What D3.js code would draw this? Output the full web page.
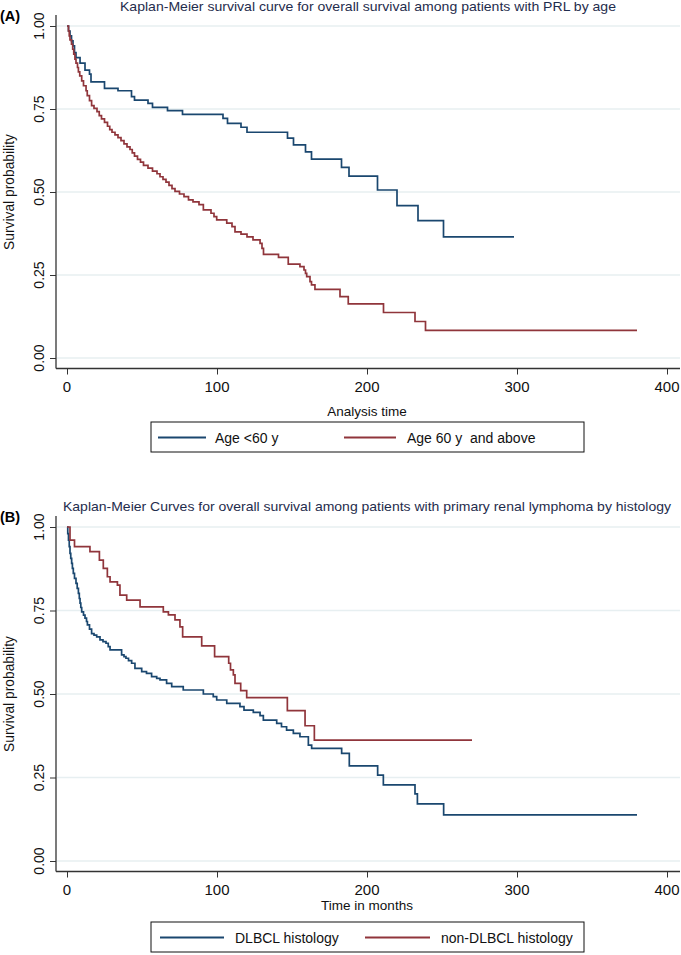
<!DOCTYPE html>
<html><head><meta charset="utf-8">
<script src="https://cdn.jsdelivr.net/npm/d3@7/dist/d3.min.js"></script>
<style>
body{margin:0;background:#fff}
svg{display:block}
text{font-family:"Liberation Sans",Arial,Helvetica,sans-serif;white-space:pre}
</style>
</head><body>
<svg id="chart" width="681" height="955"></svg>
<script>
// ---------- data ----------
const xTickValues = [0, 100, 200, 300, 400];
const yTickValues = [0, 0.25, 0.5, 0.75, 1];
const yTickLabels = ["0.00", "0.25", "0.50", "0.75", "1.00"];

// Panel A: by age
const youngTime = [0,1,2,3,4,5,6,8.7,12,15,16,25,34,43,45,54,57,67,77,104,107,116,120,147,151,159,163,183,188,207,220,234,251];
const youngSurv = [1,0.985,0.97,0.955,0.94,0.92,0.905,0.888,0.867,0.855,0.832,0.812,0.805,0.787,0.777,0.767,0.755,0.745,0.734,0.722,0.707,0.695,0.68,0.662,0.642,0.621,0.599,0.574,0.548,0.506,0.459,0.414,0.365];
const youngEnd = 298;

const oldTime = [0,1,1.5,2,3,3.8,4.5,5.3,6,7,7.6,8.5,9.8,11,12.7,13.5,15,16.4,18,20,21.5,23,25,27,28.5,30,32,34,36,38,40,42,43.5,45,47,49,51,54,57,60,62,64,66,68,70,72,75,78,81,84,88,90.9,96,98,99.8,106.5,110,112,116,120,124,128.7,130,131,141,147.5,155.3,158,159,159.8,162,163,165.3,182,187.5,211,232,239];
const oldSurv = [1,0.985,0.97,0.958,0.945,0.93,0.915,0.9,0.888,0.875,0.862,0.85,0.835,0.82,0.805,0.79,0.775,0.76,0.752,0.742,0.73,0.72,0.71,0.698,0.688,0.68,0.672,0.664,0.655,0.645,0.636,0.628,0.618,0.608,0.598,0.59,0.58,0.572,0.563,0.555,0.546,0.538,0.53,0.52,0.51,0.502,0.494,0.486,0.476,0.47,0.462,0.446,0.436,0.426,0.416,0.406,0.396,0.38,0.373,0.365,0.356,0.345,0.33,0.312,0.303,0.283,0.275,0.265,0.255,0.245,0.23,0.22,0.207,0.185,0.163,0.137,0.11,0.083];
const oldEnd = 380;

// Panel B: by histology
const dlbclTime = [0,0.5,1,1.5,2,2.5,3.1,3.6,4.2,5,6,6.8,7.6,8.2,8.7,9.2,9.8,11,12,13,13.6,15,16.4,18,19.8,22,24,26,27.5,28.7,36.4,38,39.3,41,43.1,45.3,49.8,53,56.4,59.8,62,66.4,69.8,77.5,90.9,97.5,99.8,106.5,115.3,118,124.2,128.7,130.9,139.8,143,146.4,150.9,155.3,160.9,163.1,183.1,188.2,207.1,210.9,232,233.6,251.1];
const dlbclSurv = [1,0.98,0.961,0.941,0.921,0.906,0.891,0.876,0.861,0.846,0.831,0.816,0.801,0.786,0.772,0.759,0.746,0.736,0.727,0.717,0.707,0.694,0.681,0.676,0.671,0.662,0.657,0.652,0.642,0.632,0.617,0.612,0.607,0.6,0.592,0.577,0.567,0.562,0.552,0.547,0.542,0.532,0.522,0.512,0.5,0.492,0.482,0.472,0.462,0.452,0.445,0.435,0.422,0.412,0.402,0.392,0.382,0.372,0.347,0.337,0.322,0.285,0.257,0.228,0.201,0.171,0.138];
const dlbclEnd = 380;

const nonDlbclTime = [0,2,5,15.3,21.6,24.2,26.9,28.7,33.6,35.3,39.8,48.7,64.2,67.6,72,75.3,77.1,89.8,98.4,107.8,109,110.9,112,115.8,119.8,146.9,158.7,164.9];
const nonDlbclSurv = [1,0.961,0.941,0.926,0.901,0.876,0.851,0.836,0.826,0.796,0.781,0.761,0.746,0.737,0.722,0.701,0.671,0.644,0.612,0.592,0.572,0.557,0.532,0.51,0.489,0.45,0.405,0.362];
const nonDlbclEnd = 270;

const titleA = "Kaplan-Meier survival curve for overall survival among patients with PRL by age";
const titleB = "Kaplan-Meier Curves for overall survival among patients with primary renal lymphoma by histology";
const legendA = ["Age <60 y", "Age 60 y  and above"];
const legendB = ["DLBCL histology", "non-DLBCL histology"];

// ---------- drawing ----------
const BLUE = "#1a476f", RED = "#90353b", GRID = "#e7eff1", TITLE = "#1f2d4d";
const svg = d3.select("#chart");
const x = d3.scaleLinear().domain([0, 400]).range([67, 667]);

function panel(cfg) {
  const y = d3.scaleLinear().domain([0, 1]).range([cfg.y0, cfg.y1]);
  const axisY = cfg.y0 + 10.5;
  const g = svg.append("g");

  // gridlines
  g.selectAll(".grid").data(yTickValues).enter().append("line")
    .attr("x1", 57).attr("x2", 680)
    .attr("y1", d => y(d)).attr("y2", d => y(d))
    .attr("stroke", GRID).attr("stroke-width", 1.3);

  // y axis
  const yAx = d3.axisLeft(y).tickValues(yTickValues).tickSize(6).tickFormat("");
  const ga = g.append("g").attr("transform", "translate(56,0)").call(yAx);
  ga.select(".domain").remove();
  ga.selectAll(".tick line").attr("stroke", "#333").attr("stroke-width", 1);
  g.append("line").attr("x1", 56).attr("x2", 56).attr("y1", cfg.y1 - 11).attr("y2", axisY)
    .attr("stroke", "#333").attr("stroke-width", 1.3);
  g.selectAll(".ylab").data(yTickValues).enter().append("text")
    .attr("transform", d => `translate(43.5,${y(d)}) rotate(-90)`)
    .attr("text-anchor", "middle").attr("font-size", 14).attr("fill", "#111")
    .text((d, i) => yTickLabels[i]);

  // x axis
  const xAx = d3.axisBottom(x).tickValues(xTickValues).tickSize(6).tickFormat("");
  const gx = g.append("g").attr("transform", `translate(0,${axisY})`).call(xAx);
  gx.select(".domain").remove();
  gx.selectAll(".tick line").attr("stroke", "#333").attr("stroke-width", 1);
  g.append("line").attr("x1", 56).attr("x2", 680).attr("y1", axisY).attr("y2", axisY)
    .attr("stroke", "#333").attr("stroke-width", 1.3);
  g.selectAll(".xlab").data(xTickValues).enter().append("text")
    .attr("x", d => x(d)).attr("y", axisY + 23.5)
    .attr("text-anchor", "middle").attr("font-size", 15).attr("fill", "#111")
    .text(d => d);

  // axis titles
  g.append("text").attr("transform", `translate(13.5,${y(0.5)}) rotate(-90)`)
    .attr("text-anchor", "middle").attr("font-size", 13.8).attr("fill", "#111")
    .text("Survival probability");
  g.append("text").attr("x", x(200)).attr("y", cfg.xTitleY)
    .attr("text-anchor", "middle").attr("font-size", 13.5).attr("fill", "#111")
    .text(cfg.xTitle);

  // title and panel label
  g.append("text").attr("x", cfg.titleX).attr("y", cfg.titleY)
    .attr("font-size", 13).attr("fill", TITLE)
    .attr("textLength", cfg.titleW).attr("lengthAdjust", "spacingAndGlyphs")
    .text(cfg.title);
  g.append("text").attr("x", 0).attr("y", cfg.labelY)
    .attr("font-size", 14.5).attr("font-weight", "bold").attr("fill", "#000")
    .text(cfg.label);

  // curves
  const line = d3.line().x(d => x(d[0])).y(d => y(d[1])).curve(d3.curveStepAfter);
  cfg.series.forEach(s => {
    const pts = s.t.map((t, i) => [t, s.s[i]]);
    pts.push([s.end, s.s[s.s.length - 1]]);
    g.append("path").attr("d", line(pts)).attr("fill", "none")
      .attr("stroke", s.color).attr("stroke-width", 1.7);
  });

  // legend
  const ly = cfg.legendY;
  g.append("rect").attr("x", 151).attr("y", ly).attr("width", 433).attr("height", 30)
    .attr("fill", "#fff").attr("stroke", "#111").attr("stroke-width", 1);
  cfg.series.forEach((s, i) => {
    const k = cfg.legendKeys[i];
    g.append("line").attr("x1", k[0]).attr("x2", k[1]).attr("y1", ly + 15.5).attr("y2", ly + 15.5)
      .attr("stroke", s.color).attr("stroke-width", 1.8);
    g.append("text").attr("x", k[2]).attr("y", ly + 20.5).attr("font-size", 14).attr("fill", "#111")
      .text(cfg.legend[i]);
  });
}

panel({
  y1: 26, y0: 358, xTitle: "Analysis time", xTitleY: 416,
  title: titleA, titleX: 120, titleY: 11, titleW: 496, label: "(A)", labelY: 21,
  legendY: 422, legend: legendA, legendKeys: [[158, 206, 215], [344, 396, 407]],
  series: [
    {t: youngTime, s: youngSurv, end: youngEnd, color: BLUE},
    {t: oldTime, s: oldSurv, end: oldEnd, color: RED}
  ]
});
panel({
  y1: 527, y0: 861, xTitle: "Time in months", xTitleY: 910,
  title: titleB, titleX: 63, titleY: 511, titleW: 608, label: "(B)", labelY: 522,
  legendY: 922, legend: legendB, legendKeys: [[160, 224, 235], [365, 430, 441]],
  series: [
    {t: dlbclTime, s: dlbclSurv, end: dlbclEnd, color: BLUE},
    {t: nonDlbclTime, s: nonDlbclSurv, end: nonDlbclEnd, color: RED}
  ]
});
</script>
</body></html>
